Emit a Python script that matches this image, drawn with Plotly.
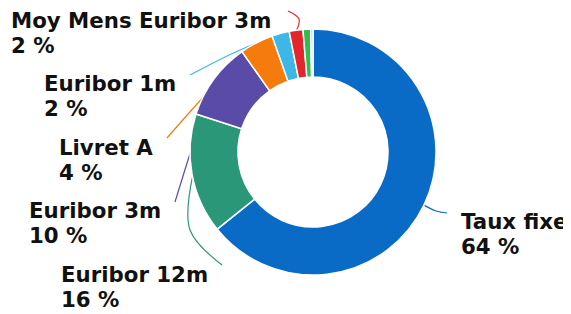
import math
import plotly.graph_objects as go

# ---- data ----
labels = ["Taux fixe", "Euribor 12m", "Euribor 3m", "Livret A", "Euribor 1m",
          "Moy Mens Euribor 3m", "Euribor 6m", "Autres"]
values = [64.2, 15.8, 10.2, 4.4, 2.3, 1.8, 1.0, 0.3]
colors = ["#0a6bc6", "#2a9878", "#5a4ba8", "#f57c0c", "#3db7e6", "#e3262b", "#2dbe4d", "#a8c8e6"]
shown = [True, True, True, True, True, True, False, False]

# ---- layout constants (window pixels) ----
W, H = 571, 314
OFF = 8  # default page body margin
CX, CY, R = 313, 152, 123
HOLE = 0.61
FONT = 21.3
LINE_GAP = 25
# label: left x of text, vertical centre of first line
label_pos = {
    "Taux fixe": (462, 221),
    "Euribor 12m": (62, 274),
    "Euribor 3m": (30, 210),
    "Livret A": (60, 147),
    "Euribor 1m": (45, 83),
    "Moy Mens Euribor 3m": (12, 20),
}
line_path = {
    "Taux fixe": [(436, 211), (447, 213)],
    "Euribor 12m": [(190, 230), (222, 265)],
    "Euribor 3m": [(196, 135), (175, 202)],
    "Livret A": [(210, 90), (167, 138)],
    "Euribor 1m": [(240, 50), (190, 75)],
    "Moy Mens Euribor 3m": [(299, 19), (288, 11)],
}

fig = go.Figure()

total = sum(values)
cum = 0.0
annotations = []
font = dict(family="DejaVu Sans", size=FONT, color="#111111", weight="bold")
for lab, v, c, s in zip(labels, values, colors, shown):
    mid = (cum + v / 2) / total * 2 * math.pi
    cum += v
    if not s:
        continue
    sx = CX + (R - 1) * math.sin(mid)
    sy = CY - (R - 1) * math.cos(mid)
    pts = [(sx, sy)] + line_path[lab]
    fig.add_trace(go.Scatter(
        x=[p[0] for p in pts], y=[p[1] for p in pts], mode="lines",
        line=dict(color=c, width=1.2, shape="spline"),
        hoverinfo="skip", showlegend=False))
    lx, ly = label_pos[lab]
    for i, txt in enumerate([lab, f"{round(v)} %"]):
        annotations.append(dict(
            x=lx - 3, y=ly + i * LINE_GAP, xref="x", yref="y",
            xanchor="left", yanchor="middle",
            text=txt, showarrow=False, align="left", font=font))

fig.add_trace(go.Pie(
    labels=labels, values=values, hole=HOLE, sort=False, direction="clockwise",
    rotation=0, textinfo="none", hoverinfo="label+percent",
    marker=dict(colors=colors, line=dict(color="white", width=1.5)),
    domain=dict(x=[(CX - R - OFF) / (W - OFF), (CX + R - OFF) / (W - OFF)],
                y=[1 - (CY + R - OFF) / (H - OFF), 1 - (CY - R - OFF) / (H - OFF)]),
    showlegend=False))

fig.update_layout(
    width=W - OFF, height=H - OFF, margin=dict(l=0, r=0, t=0, b=0),
    paper_bgcolor="white", plot_bgcolor="rgba(0,0,0,0)",
    xaxis=dict(range=[OFF, W], visible=False, fixedrange=True),
    yaxis=dict(range=[H, OFF], visible=False, fixedrange=True),
    annotations=annotations, showlegend=False)

fig.write_html("out.html")
